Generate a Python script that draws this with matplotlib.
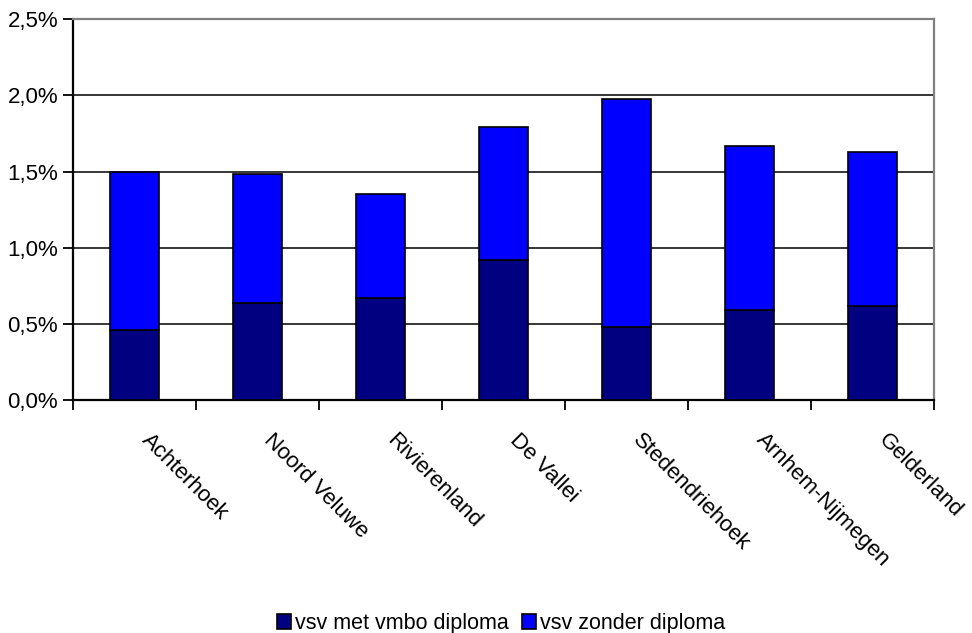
import numpy as np
import matplotlib
matplotlib.use('Agg')
import matplotlib.pyplot as plt
import matplotlib.transforms as mtransforms
from matplotlib.ticker import FuncFormatter, MultipleLocator

plt.rcParams['font.family'] = ['Liberation Sans', 'DejaVu Sans']

regios = ['Achterhoek', 'Noord Veluwe', 'Rivierenland', 'De Vallei',
          'Stedendriehoek', 'Arnhem-Nijmegen', 'Gelderland']
met_vmbo = [0.46, 0.64, 0.67, 0.92, 0.48, 0.59, 0.62]
zonder = [1.035, 0.845, 0.685, 0.875, 1.50, 1.08, 1.01]
reeksen = ['vsv met vmbo diploma', 'vsv zonder diploma']

fig = plt.figure(figsize=(9.72, 6.33), dpi=100, facecolor='white')
ax = fig.add_axes([0.0754, 0.368, 0.8856, 0.6015])

x = np.arange(len(regios))
ax.bar(x, met_vmbo, width=0.4, color='#000080', edgecolor='black',
       linewidth=1.2, label=reeksen[0], zorder=3)
ax.bar(x, zonder, width=0.4, bottom=met_vmbo, color='#0000FF',
       edgecolor='black', linewidth=1.2, label=reeksen[1], zorder=3)

ax.set_xlim(-0.5, len(regios) - 0.5)
ax.set_ylim(0, 2.5)
ax.yaxis.set_major_locator(MultipleLocator(0.5))
ax.yaxis.set_major_formatter(FuncFormatter(lambda v, p: f'{v:.1f}%'.replace('.', ',')))
ax.grid(axis='y', color='black', linewidth=1.1, zorder=0)

# category labels at centres, tick marks at boundaries
ax.set_xticks(x)
ax.set_xticklabels(regios, rotation=-45, ha='left', va='top',
                   rotation_mode='anchor')
ax.set_xticks(np.arange(len(regios) + 1) - 0.5, minor=True)
ax.tick_params(axis='x', which='major', length=0, pad=21, labelsize=16)
ax.tick_params(axis='x', which='minor', length=7, width=1.3, direction='out')
ax.tick_params(axis='y', length=7, width=1.3, direction='out', labelsize=16, pad=4)

verschuif = mtransforms.ScaledTranslation(0.17, 0, fig.dpi_scale_trans)
for lab in ax.get_xticklabels():
    lab.set_transform(lab.get_transform() + verschuif)

for s in ['left', 'bottom']:
    ax.spines[s].set_color('black')
    ax.spines[s].set_linewidth(1.6)
for s in ['top', 'right']:
    ax.spines[s].set_color('#808080')
    ax.spines[s].set_linewidth(1.6)

fig.legend(loc='lower center', bbox_to_anchor=(0.5155, -0.032), ncol=2,
           frameon=False, fontsize=15.5, handlelength=0.65, handleheight=0.65,
           handletextpad=0.2, columnspacing=0.6)

plt.savefig('out.png', dpi=100, facecolor='white')
